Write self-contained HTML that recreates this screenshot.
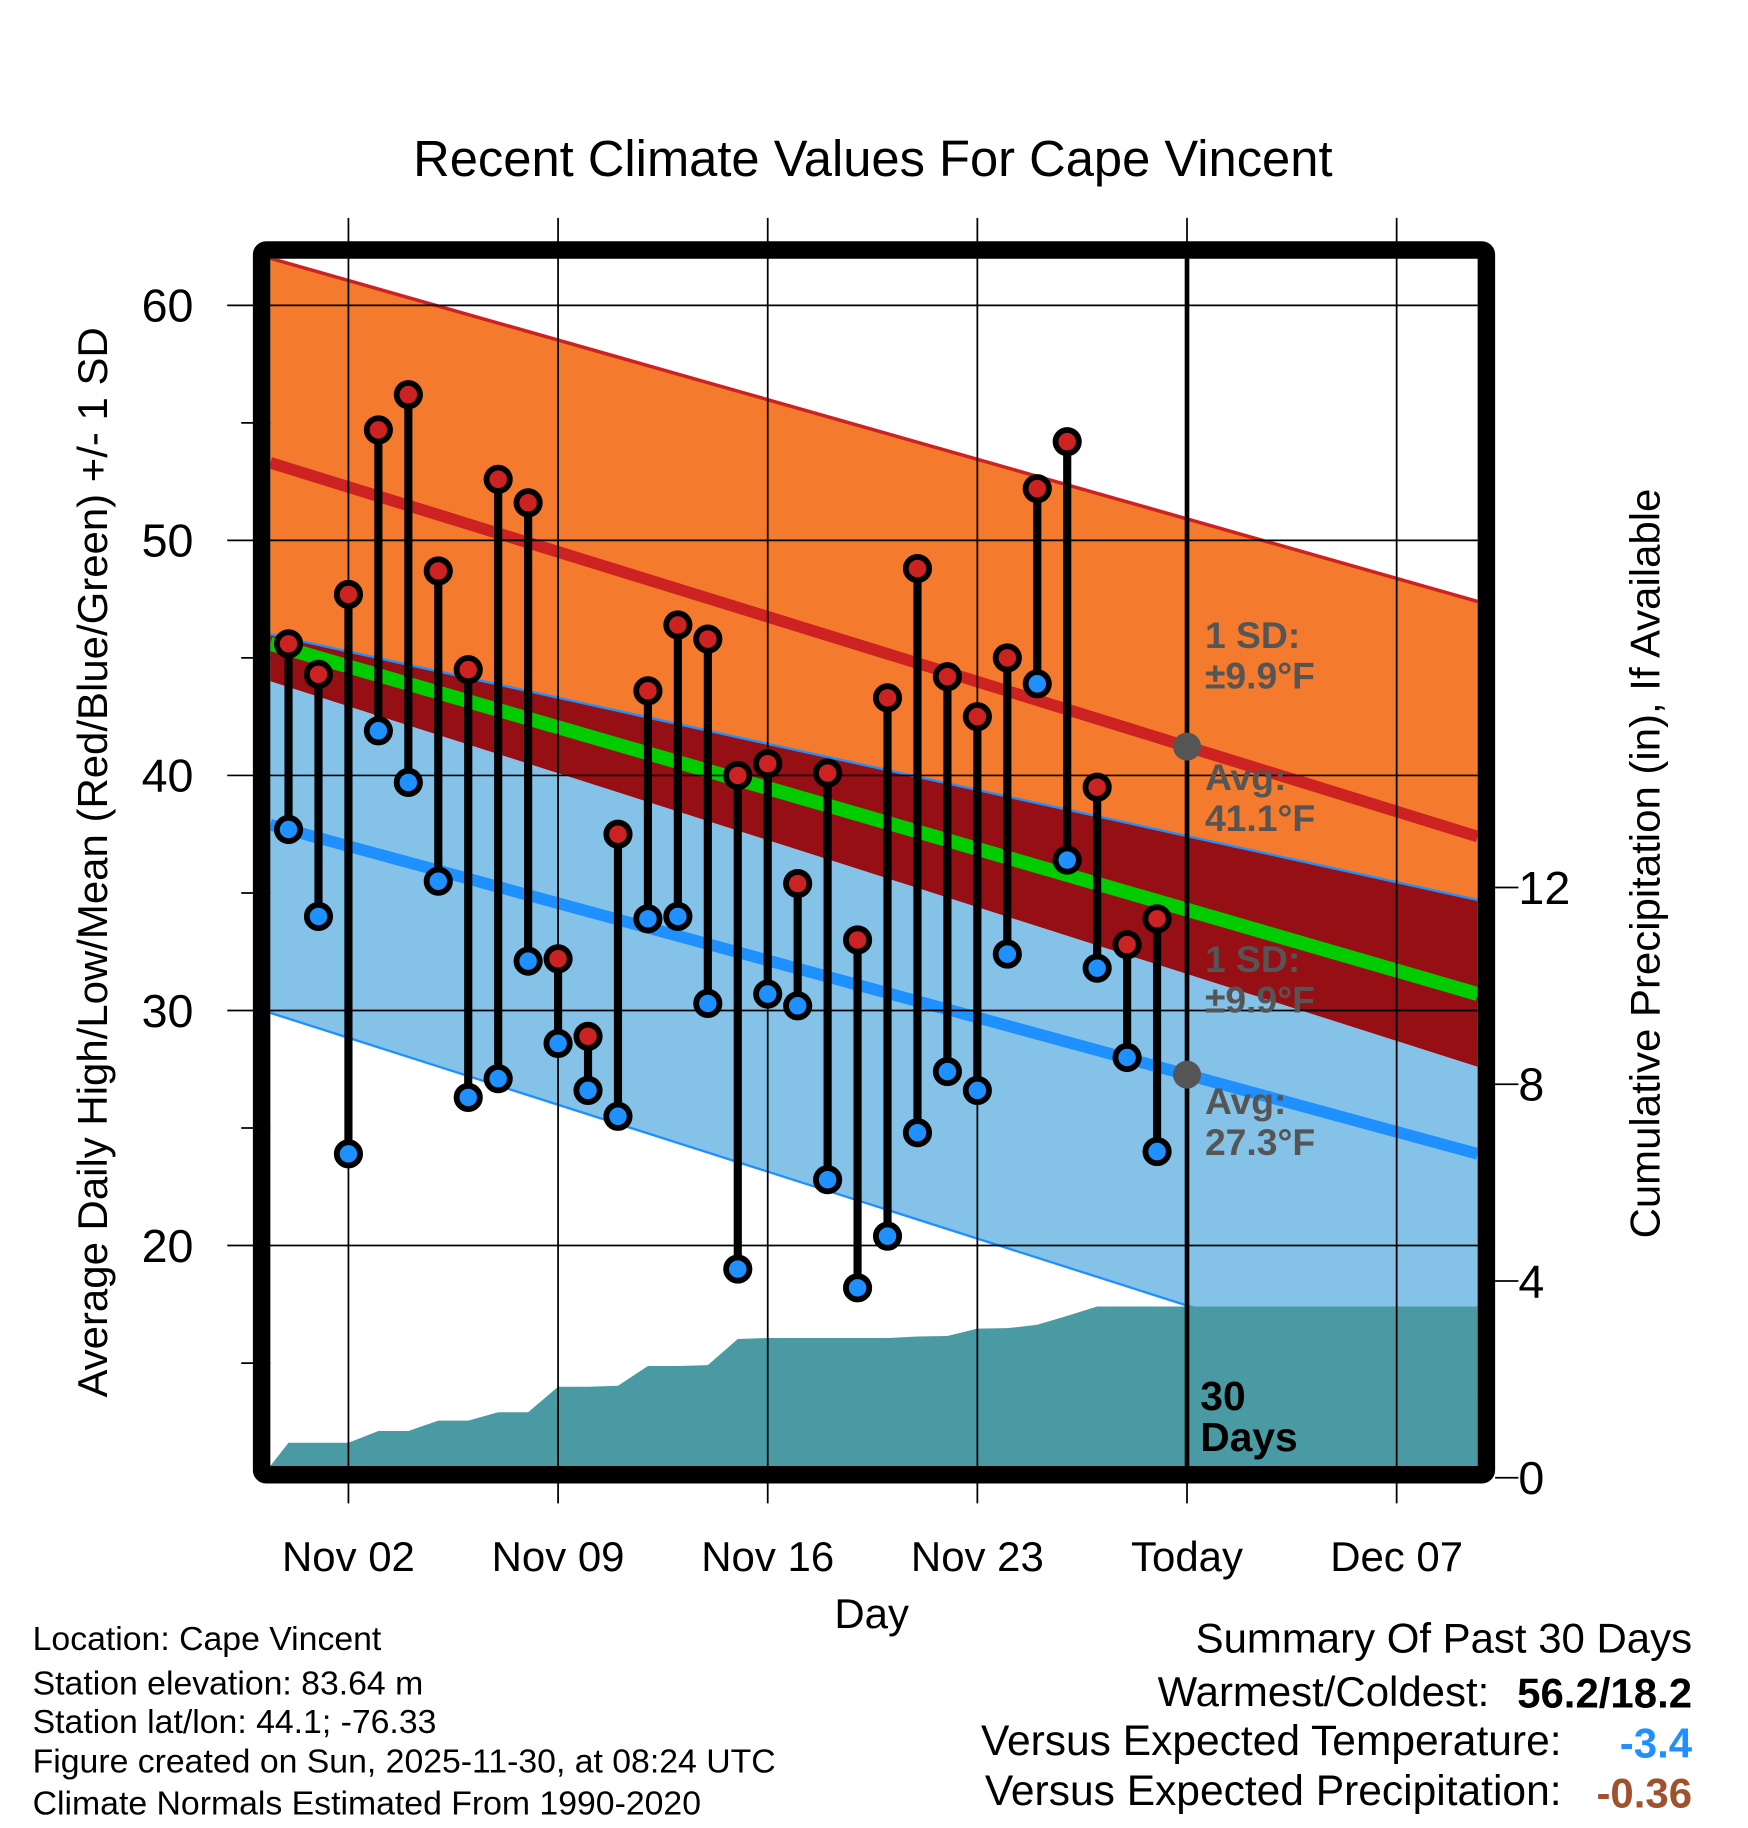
<!DOCTYPE html>
<html><head><meta charset="utf-8"><style>
html,body{margin:0;padding:0;background:#fff}
svg{display:block}
text{font-family:"Liberation Sans",sans-serif}
</style></head><body>
<svg id="chart" width="1748" height="1828" viewBox="0 0 1500 1568.6" preserveAspectRatio="none" xmlns="http://www.w3.org/2000/svg"></svg>
<script>
// ---- data ----
const dayLabels = ["Oct 31","Nov 01","Nov 02","Nov 03","Nov 04","Nov 05","Nov 06","Nov 07","Nov 08","Nov 09","Nov 10","Nov 11","Nov 12","Nov 13","Nov 14","Nov 15","Nov 16","Nov 17","Nov 18","Nov 19","Nov 20","Nov 21","Nov 22","Nov 23","Nov 24","Nov 25","Nov 26","Nov 27","Nov 28","Nov 29"];
const highs = [45.6,44.3,47.7,54.7,56.2,48.7,44.5,52.6,51.6,32.2,28.9,37.5,43.6,46.4,45.8,40.0,40.5,35.4,40.1,33.0,43.3,48.8,44.2,42.5,45.0,52.2,54.2,39.5,32.8,33.9];
const lows = [37.7,34.0,23.9,41.9,39.7,35.5,26.3,27.1,32.1,28.6,26.6,25.5,33.9,34.0,30.3,19.0,30.7,30.2,22.8,18.2,20.4,24.8,27.4,26.6,32.4,43.9,36.4,31.8,28.0,24.0];
const precipCum = [0.71,0.71,0.71,0.95,0.95,1.16,1.16,1.33,1.33,1.85,1.85,1.87,2.27,2.27,2.29,2.82,2.84,2.84,2.84,2.84,2.84,2.87,2.88,3.03,3.04,3.11,3.29,3.48,3.48,3.48];
// normals at plot-left edge and plot-right edge
const normHigh = [53.3,37.4];
const normHighPlus = [62.0,47.4];
const normHighMinus = [46.0,34.7];
const normLow = [37.9,23.9];
const normLowPlus = [44.0,27.6];
const normLowMinus = [29.9,13.5];
const normMean = [45.6,30.7];
const yTicks = [20,30,40,50,60];
const yMinor = [15,25,35,45,55];
const pTicks = [0,4,8,12];
const xTickDays = [2,9,16,23,30,37];
const xTickLabels = ["Nov 02","Nov 09","Nov 16","Nov 23","Today","Dec 07"];

// ---- scales ----
const L=232,R=1268,T=222,B=1258;
const X = d => 299 + (d-2)*25.7;
const Y = v => 262 + (60-v)*20.17;
const P = p => 1268 - p*42.2;
const dL=(L-299)/25.7+2, dR=(R-299)/25.7+2;
const svg=document.getElementById('chart');
const NS="http://www.w3.org/2000/svg";
function mk(tag,attrs,parent){const e=document.createElementNS(NS,tag);for(const k in attrs)e.setAttribute(k,attrs[k]);(parent||svg).appendChild(e);return e;}
function txt(s,attrs){const e=mk('text',attrs);e.textContent=s;return e;}
const clip=mk('clipPath',{id:'pc'});mk('rect',{x:L,y:T,width:R-L,height:B-T},clip);
const g=mk('g',{'clip-path':'url(#pc)'});
function gband(top,bot,fill,name){
  const pts=[[L,Y(top[0])],[R,Y(top[1])],[R,Y(bot[1])],[L,Y(bot[0])]];
  const e=mk('polygon',{points:pts.map(p=>p.join(',')).join(' '),fill:fill},g);
  
  
}
function gline(v,stroke,w,name){
  const e=mk('line',{x1:L,y1:Y(v[0]),x2:R,y2:Y(v[1]),stroke:stroke,'stroke-width':w},g);
  
  
}
gband(normHighPlus,normHighMinus,'#f47a2e','high-sd-band');
gband(normHighMinus,normLowPlus,'#960f14','overlap-band');
gband(normLowPlus,normLowMinus,'#84c2e8','low-sd-band');
gline(normHighPlus,'#cc2222',3,'high-plus-sd-line');
gline(normHighMinus,'#1e90ff',2,'high-minus-sd-line');
gline(normLowMinus,'#1e90ff',2,'low-minus-sd-line');
gline(normHigh,'#cc2222',10,'normal-high-line');
gline(normLow,'#1e90ff',10,'normal-low-line');
gline(normMean,'#00cc00',12,'normal-mean-line');
let pp=[[L,B+10],[L,P(0.24)]];
precipCum.forEach((p,i)=>pp.push([X(i),P(p)]));
pp.push([R,P(precipCum[precipCum.length-1])]);pp.push([R,B+10]);
const pa=mk('polygon',{points:pp.map(p=>p.join(',')).join(' '),fill:'#4a9aa4'},g);


yTicks.forEach(v=>{const e=mk('line',{x1:195,y1:Y(v),x2:R,y2:Y(v),stroke:'#000','stroke-width':1.5});
  
  
  const t=txt(String(v),{x:166,y:Y(v)+14,'font-size':40,'text-anchor':'end'});
  
  });
yMinor.forEach(v=>{const e=mk('line',{x1:207,y1:Y(v),x2:L,y2:Y(v),stroke:'#000','stroke-width':1.5});
  
  });
xTickDays.forEach((d,i)=>{const e=mk('line',{x1:X(d),y1:187,x2:X(d),y2:1290,stroke:'#000','stroke-width':1.5});
  
  
  const t=txt(xTickLabels[i],{x:X(d),y:1348,'font-size':36,'text-anchor':'middle'});
  
  });
pTicks.forEach(p=>{const e=mk('line',{x1:1283,y1:P(p),x2:1303,y2:P(p),stroke:'#000','stroke-width':1.5});
  
  
  const t=txt(String(p),{x:1303,y:P(p)+14,'font-size':40});
  
  });
const tl=mk('line',{x1:X(30),y1:T,x2:X(30),y2:B,stroke:'#000','stroke-width':4});


highs.forEach((h,i)=>{const lo=lows[i];const x=X(i);
  const s=mk('line',{x1:x,y1:Y(h),x2:x,y2:Y(lo),stroke:'#000','stroke-width':7});
  
  
  const c1=mk('circle',{cx:x,cy:Y(h),r:10,fill:'#cc2222',stroke:'#000','stroke-width':5});
  
  
  const c2=mk('circle',{cx:x,cy:Y(lo),r:10,fill:'#1e90ff',stroke:'#000','stroke-width':5});
  
  });
const todayIdx=30;
const hiToday=normHigh[0]+(normHigh[1]-normHigh[0])*(todayIdx-dL)/(dR-dL);
const loToday=normLow[0]+(normLow[1]-normLow[0])*(todayIdx-dL)/(dR-dL);
[[hiToday,'today-avg-high-dot'],[loToday,'today-avg-low-dot']].forEach(a=>{
  const c=mk('circle',{cx:X(30),cy:Y(a[0]),r:12,fill:'#555'});
  
  });
const fr=mk('rect',{x:224.5,y:214.5,width:1051,height:1051,fill:'none',stroke:'#000','stroke-width':15,rx:4});


function ann(lines,x,y,name,col,size){lines.forEach((s,i)=>{const t=txt(s,{x:x,y:y+i*35,'font-size':size||32,'font-weight':'bold',fill:col||'#555'});
  
  });}
ann(["1 SD:","±9.9°F"],1034,556,'high-sd-annotation');
ann(["Avg:","41.1°F"],1034,678,'avg-high-annotation');
ann(["1 SD:","±9.9°F"],1034,834,'low-sd-annotation');
ann(["Avg:","27.3°F"],1034,956,'avg-low-annotation');
ann(["30","Days"],1030,1210,'thirty-days-label','#000',35);
let t=txt("Recent Climate Values For Cape Vincent",{x:749,y:151,'font-size':43.5,'text-anchor':'middle'});


t=txt("Average Daily High/Low/Mean (Red/Blue/Green) +/- 1 SD",{x:0,y:0,'font-size':36,'text-anchor':'middle',transform:'translate(92,740) rotate(-90)'});


t=txt("Cumulative Precipitation (in), If Available",{x:0,y:0,'font-size':36,'text-anchor':'middle',transform:'translate(1424,741) rotate(-90)'});


t=txt("Day",{x:748,y:1397,'font-size':36,'text-anchor':'middle'});


["Location: Cape Vincent","Station elevation: 83.64 m","Station lat/lon: 44.1; -76.33","Figure created on Sun, 2025-11-30, at 08:24 UTC","Climate Normals Estimated From 1990-2020"].forEach((s,i)=>{
  const e=txt(s,{x:28,y:[1416,1454,1487,1521,1557][i],'font-size':29});
  
  });
t=txt("Summary Of Past 30 Days",{x:1452,y:1418,'font-size':36,'text-anchor':'end'});


const a=txt("Warmest/Coldest:",{x:1278,y:1464,'font-size':36,'text-anchor':'end'});


const b=txt("56.2/18.2",{x:1452,y:1465,'font-size':36,'font-weight':'bold','text-anchor':'end'});


const r1=txt("Versus Expected Temperature:",{x:1340,y:1506,'font-size':36.5,'text-anchor':'end'});


const v1=txt("-3.4",{x:1452,y:1508,'font-size':36,'font-weight':'bold','text-anchor':'end',fill:'#1e90ff'});


const r2=txt("Versus Expected Precipitation:",{x:1340,y:1549,'font-size':36.5,'text-anchor':'end'});


const v2=txt("-0.36",{x:1452,y:1551,'font-size':36,'font-weight':'bold','text-anchor':'end',fill:'#a0522d'});


</script>
</body></html>
